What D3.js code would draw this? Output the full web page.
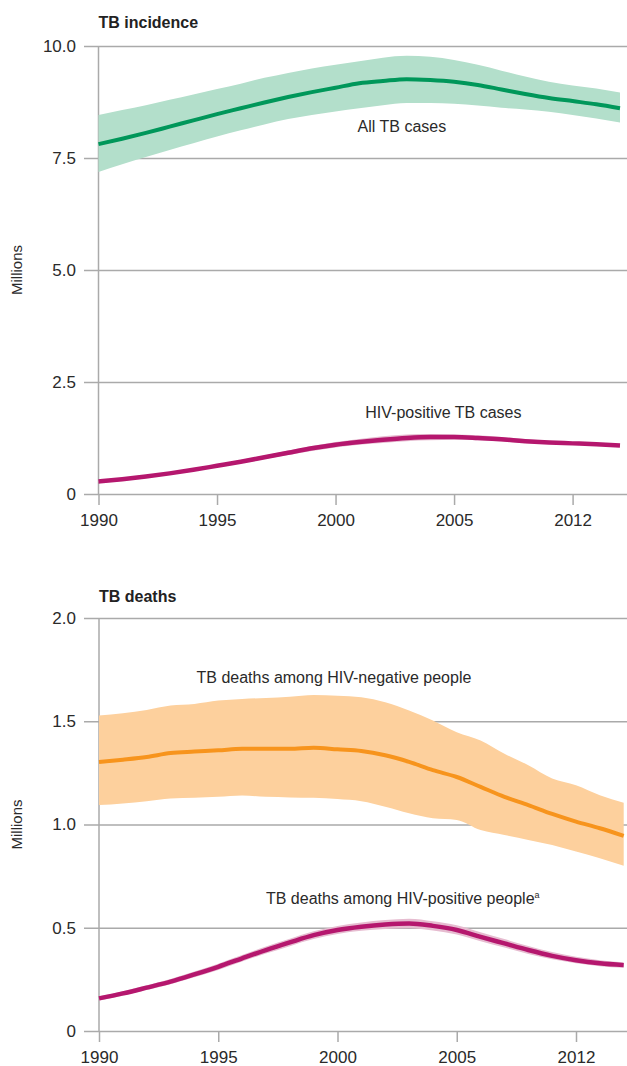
<!DOCTYPE html>
<html>
<head>
<meta charset="utf-8">
<script src="https://cdn.jsdelivr.net/npm/d3@7"></script>
<style>
  html, body { margin: 0; padding: 0; background: #fff; }
  svg { display: block; font-family: "Liberation Sans Narrow", "Arial Narrow", "Liberation Sans", sans-serif; }
  .tick text { fill: #2a2a2a; font-size: 17px; }
  .lbl { fill: #2a2a2a; font-size: 16px; }
  .title { fill: #222; font-size: 16px; font-weight: bold; font-family: "Liberation Sans Narrow", "Liberation Sans", sans-serif; }
</style>
</head>
<body>
<svg id="chart" width="627" height="1066"></svg>
<script>
// ---------- data ----------
const years = [1990,1991,1992,1993,1994,1995,1996,1997,1998,1999,2000,2001,2002,2003,2004,2005,2006,2007,2008,2009,2010,2011,2012];
const xTickValues = [1990, 1995, 2000, 2005, 2010];
const xTickLabels = ["1990", "1995", "2000", "2005", "2012"];
const topYTicks = [0, 2.5, 5.0, 7.5, 10.0];
const topYTickLabels = ["0", "2.5", "5.0", "7.5", "10.0"];
const botYTicks = [0, 0.5, 1.0, 1.5, 2.0];
const botYTickLabels = ["0", "0.5", "1.0", "1.5", "2.0"];

const allTB     = [7.81,7.93,8.06,8.20,8.34,8.48,8.61,8.74,8.86,8.97,9.07,9.17,9.22,9.26,9.24,9.20,9.13,9.03,8.93,8.84,8.77,8.70,8.61];
const allTBLow  = [7.19,7.36,7.52,7.68,7.83,7.98,8.12,8.25,8.37,8.46,8.54,8.61,8.68,8.73,8.73,8.71,8.67,8.62,8.58,8.53,8.46,8.38,8.29];
const allTBHigh = [8.46,8.57,8.68,8.80,8.92,9.04,9.16,9.29,9.40,9.50,9.58,9.66,9.74,9.78,9.76,9.69,9.58,9.45,9.32,9.20,9.12,9.05,8.96];

const hivTB     = [0.28,0.33,0.39,0.46,0.54,0.63,0.72,0.82,0.92,1.02,1.10,1.16,1.21,1.25,1.27,1.27,1.25,1.22,1.18,1.15,1.13,1.11,1.08];
const hivTBLow  = [0.26,0.31,0.37,0.44,0.51,0.60,0.69,0.78,0.87,0.96,1.04,1.10,1.14,1.18,1.20,1.21,1.20,1.17,1.14,1.12,1.10,1.08,1.05];
const hivTBHigh = [0.30,0.35,0.41,0.48,0.57,0.66,0.76,0.86,0.97,1.07,1.16,1.23,1.29,1.33,1.34,1.33,1.31,1.27,1.23,1.19,1.16,1.14,1.11];

const negDeaths     = [1.303,1.314,1.327,1.346,1.353,1.359,1.367,1.367,1.367,1.372,1.364,1.356,1.335,1.303,1.263,1.230,1.182,1.134,1.094,1.051,1.014,0.982,0.945];
const negDeathsLow  = [1.094,1.102,1.113,1.126,1.129,1.134,1.141,1.134,1.131,1.129,1.123,1.113,1.086,1.054,1.030,1.022,0.973,0.949,0.925,0.901,0.869,0.837,0.800];
const negDeathsHigh = [1.528,1.539,1.555,1.576,1.584,1.600,1.608,1.613,1.619,1.627,1.624,1.616,1.592,1.552,1.504,1.447,1.407,1.343,1.287,1.223,1.190,1.142,1.105];

const posDeaths     = [0.158,0.182,0.210,0.239,0.274,0.311,0.352,0.392,0.429,0.464,0.489,0.505,0.516,0.521,0.509,0.489,0.456,0.424,0.392,0.364,0.343,0.328,0.319];
const posDeathsLow  = [0.148,0.171,0.198,0.226,0.260,0.296,0.336,0.375,0.411,0.445,0.470,0.485,0.494,0.498,0.487,0.467,0.435,0.404,0.373,0.347,0.328,0.314,0.306];
const posDeathsHigh = [0.168,0.193,0.222,0.252,0.288,0.326,0.368,0.409,0.447,0.483,0.509,0.526,0.538,0.544,0.532,0.512,0.478,0.445,0.412,0.382,0.359,0.343,0.333];

// ---------- drawing ----------
const svg = d3.select("#chart");
const gridColor = "#aaaaaa";
const gridLeft = 84, gridRight = 627;

function panel(cfg) {
  const x = d3.scaleLinear().domain([1990, 2012]).range(cfg.xRange);
  const y = d3.scaleLinear().domain(cfg.yDomain).range(cfg.yRange);
  const g = svg.append("g");

  // title
  g.append("text").attr("class", "title").attr("x", cfg.xRange[0]).attr("y", cfg.titleY).text(cfg.title);

  // y-axis label
  g.append("text").attr("class", "lbl")
    .attr("transform", `translate(22,${(cfg.yRange[0] + cfg.yRange[1]) / 2}) rotate(-90)`)
    .attr("text-anchor", "middle").style("font-size", "15px").text("Millions");

  // gridlines + y labels
  const yAxis = d3.axisLeft(y).tickValues(cfg.yTicks)
    .tickFormat((d, i) => cfg.yTickLabels[i])
    .tickSize(-(gridRight - gridLeft)).tickPadding(8);
  const ya = g.append("g").attr("transform", `translate(${gridLeft},0)`).call(yAxis);
  ya.select(".domain").remove();
  ya.selectAll(".tick line").attr("stroke", gridColor).attr("stroke-width", 1.5);

  // vertical axis line
  g.append("line").attr("x1", cfg.xRange[0]).attr("x2", cfg.xRange[0])
    .attr("y1", y(cfg.yDomain[1])).attr("y2", y(cfg.yDomain[0]))
    .attr("stroke", gridColor).attr("stroke-width", 1.5);

  // x axis
  const xAxis = d3.axisBottom(x).tickValues(xTickValues)
    .tickFormat((d, i) => xTickLabels[i]).tickSize(11).tickPadding(9);
  const xa = g.append("g").attr("transform", `translate(0,${y(cfg.yDomain[0])})`).call(xAxis);
  xa.select(".domain").remove();
  xa.selectAll(".tick line").attr("stroke", gridColor).attr("stroke-width", 1.5);

  // series
  cfg.series.forEach(s => {
    const rows = years.map((yr, i) => ({ yr, v: s.v[i], lo: s.lo[i], hi: s.hi[i] }));
    const area = d3.area().curve(d3.curveMonotoneX)
      .x(d => x(d.yr)).y0(d => y(d.lo)).y1(d => y(d.hi));
    const line = d3.line().curve(d3.curveMonotoneX)
      .x(d => x(d.yr)).y(d => y(d.v));
    g.append("path").datum(rows).attr("d", area).attr("fill", s.band);
    g.append("path").datum(rows).attr("d", line).attr("fill", "none")
      .attr("stroke", s.color).attr("stroke-width", s.width);
    const t = g.append("text").attr("class", "lbl")
      .attr("x", x(s.labelAt[0])).attr("y", y(s.labelAt[1]))
      .attr("text-anchor", s.anchor).text(s.label);
    if (s.sup) t.append("tspan").attr("dy", -6).style("font-size", "9px").text(s.sup);
  });
}

panel({
  title: "TB incidence", titleY: 28,
  xRange: [98.5, 620],
  yDomain: [0, 10], yRange: [494, 46],
  yTicks: topYTicks, yTickLabels: topYTickLabels,
  series: [
    { v: allTB, lo: allTBLow, hi: allTBHigh, color: "#00975a", band: "#b3dfcb", width: 4,
      label: "All TB cases", labelAt: [2002.8, 8.08], anchor: "middle" },
    { v: hivTB, lo: hivTBLow, hi: hivTBHigh, color: "#b5176e", band: "#e6bcd0", width: 4.5,
      label: "HIV-positive TB cases", labelAt: [2004.55, 1.70], anchor: "middle" }
  ]
});

panel({
  title: "TB deaths", titleY: 602,
  xRange: [99, 623.7],
  yDomain: [0, 2], yRange: [1031, 618],
  yTicks: botYTicks, yTickLabels: botYTickLabels,
  series: [
    { v: negDeaths, lo: negDeathsLow, hi: negDeathsHigh, color: "#f7941d", band: "#fdd09d", width: 4,
      label: "TB deaths among HIV-negative people", labelAt: [1999.85, 1.684], anchor: "middle" },
    { v: posDeaths, lo: posDeathsLow, hi: posDeathsHigh, color: "#b5176e", band: "#e6bcd0", width: 4.5,
      label: "TB deaths among HIV-positive people", sup: "a", labelAt: [1997.0, 0.614], anchor: "start" }
  ]
});
</script>
</body>
</html>
